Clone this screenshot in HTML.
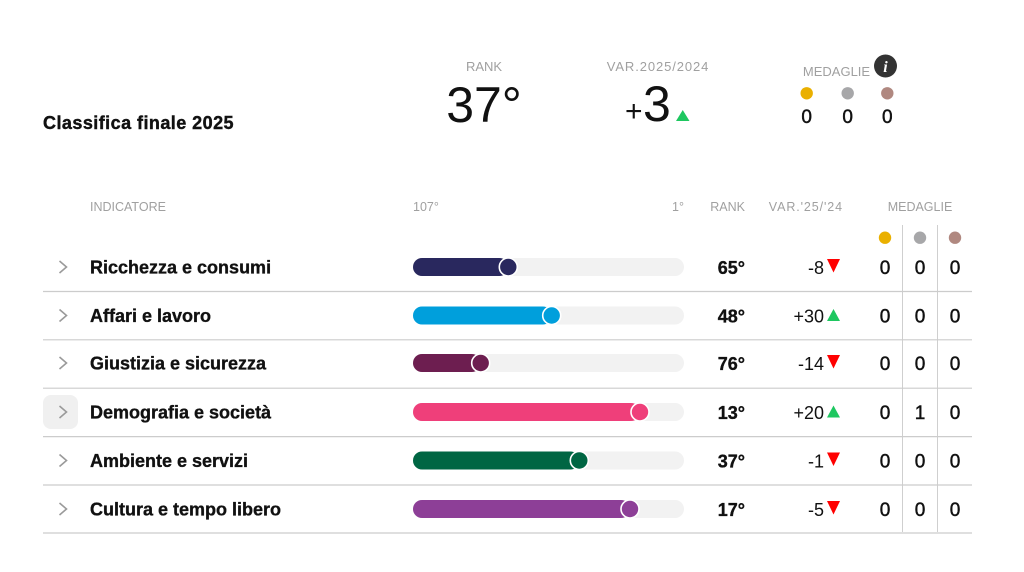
<!DOCTYPE html>
<html><head><meta charset="utf-8"><style>
html,body{margin:0;padding:0;background:#fff;}
svg{display:block;}
text{font-family:"Liberation Sans",Arial,sans-serif;}
.lbl{fill:#a0a0a0;font-size:12.5px;}
.name{font-weight:bold;font-size:18px;fill:#111;stroke:#111;stroke-width:0.35px;}
.rank{font-weight:bold;font-size:18px;fill:#111;stroke:#111;stroke-width:0.35px;}
.var{font-size:18px;fill:#111;}
.med{font-size:19px;fill:#111;text-anchor:middle;stroke:#111;stroke-width:0.45px;}
</style></head><body>
<svg width="1024" height="572" viewBox="0 0 1024 572" xmlns="http://www.w3.org/2000/svg">
<rect width="1024" height="572" fill="#fff"/>
<!-- Title -->
<text x="43" y="129" style="font-weight:bold;font-size:18px;letter-spacing:0.45px;stroke:#111;stroke-width:0.4px" fill="#111">Classifica finale 2025</text>
<!-- RANK -->
<text x="484" y="71" class="lbl" style="font-size:13px" text-anchor="middle">RANK</text>
<text x="484" y="122" style="font-size:50px" fill="#111" text-anchor="middle">37°</text>
<!-- VAR -->
<text x="658" y="71" class="lbl" style="font-size:13px;letter-spacing:0.9px" text-anchor="middle">VAR.2025/2024</text>
<text x="625" y="121" style="font-size:30px" fill="#111">+</text>
<text x="643" y="121" style="font-size:50px" fill="#111">3</text>
<polygon points="676,121 689.5,121 682.75,110" fill="#1ec760"/>
<!-- MEDAGLIE -->
<text x="836.5" y="76" class="lbl" style="font-size:13px" text-anchor="middle">MEDAGLIE</text>
<circle cx="885.5" cy="66" r="11.5" fill="#333"/>
<text x="885.5" y="72" style="font-family:'Liberation Serif',serif;font-weight:bold;font-style:italic;font-size:16px" fill="#fff" text-anchor="middle">i</text>
<circle cx="806.7" cy="93.3" r="6.2" fill="#eab000"/>
<circle cx="847.7" cy="93.3" r="6.2" fill="#a7a7a9"/>
<circle cx="887.3" cy="93.3" r="6.2" fill="#b08880"/>
<text x="806.7" y="123" class="med">0</text>
<text x="847.7" y="123" class="med">0</text>
<text x="887.3" y="123" class="med">0</text>

<!-- Table header -->
<text x="90" y="211" class="lbl">INDICATORE</text>
<text x="413" y="211" class="lbl">107°</text>
<text x="684" y="211" class="lbl" text-anchor="end">1°</text>
<text x="745" y="211" class="lbl" text-anchor="end">RANK</text>
<text x="843" y="211" class="lbl" text-anchor="end" style="letter-spacing:0.9px">VAR.'25/'24</text>
<text x="920" y="211" class="lbl" text-anchor="middle">MEDAGLIE</text>
<circle cx="885" cy="237.7" r="6.2" fill="#eab000"/>
<circle cx="920" cy="237.7" r="6.2" fill="#a7a7a9"/>
<circle cx="955" cy="237.7" r="6.2" fill="#b08880"/>
<line x1="902.5" y1="225" x2="902.5" y2="532" stroke="#cfcfcf" stroke-width="1"/>
<line x1="937.5" y1="225" x2="937.5" y2="532" stroke="#cfcfcf" stroke-width="1"/>

<!-- Row separators -->
<g stroke="#cccccc" stroke-width="1.2">
<line x1="43" y1="291.5" x2="972" y2="291.5"/>
<line x1="43" y1="339.8" x2="972" y2="339.8"/>
<line x1="43" y1="388.2" x2="972" y2="388.2"/>
<line x1="43" y1="436.6" x2="972" y2="436.6"/>
<line x1="43" y1="485" x2="972" y2="485"/>
<line x1="43" y1="533" x2="972" y2="533"/>
</g>

<!-- highlight row 4 chevron bg -->
<rect x="43" y="395" width="35" height="34" rx="8" fill="#f0f0f0"/>

<!-- Rows -->
<g id="rows">
<!-- Row 1 c=267 -->
<polyline points="59.5,261 66.5,267 59.5,273" fill="none" stroke="#9a9a9a" stroke-width="1.6"/>
<text x="90" y="273.5" class="name">Ricchezza e consumi</text>
<rect x="413" y="258" width="271" height="18" rx="9" fill="#f2f2f2"/>
<rect x="413" y="258" width="95.3" height="18" rx="9" fill="#29285e"/>
<circle cx="508.3" cy="267" r="9" fill="#29285e" stroke="#fff" stroke-width="1.6"/>
<text x="745" y="274" class="rank" text-anchor="end">65°</text>
<text x="824" y="274" class="var" text-anchor="end">-8</text>
<polygon points="827,259 840,259 833.5,272.5" fill="#f00"/>
<text x="885" y="274" class="med">0</text><text x="920" y="274" class="med">0</text><text x="955" y="274" class="med">0</text>

<!-- Row 2 c=315.5 -->
<polyline points="59.5,309.5 66.5,315.5 59.5,321.5" fill="none" stroke="#9a9a9a" stroke-width="1.6"/>
<text x="90" y="322" class="name">Affari e lavoro</text>
<rect x="413" y="306.5" width="271" height="18" rx="9" fill="#f2f2f2"/>
<rect x="413" y="306.5" width="138.7" height="18" rx="9" fill="#009fdc"/>
<circle cx="551.7" cy="315.5" r="9" fill="#009fdc" stroke="#fff" stroke-width="1.6"/>
<text x="745" y="322.5" class="rank" text-anchor="end">48°</text>
<text x="824" y="322.5" class="var" text-anchor="end">+30</text>
<polygon points="827,321 840,321 833.5,309" fill="#1ec760"/>
<text x="885" y="322.5" class="med">0</text><text x="920" y="322.5" class="med">0</text><text x="955" y="322.5" class="med">0</text>

<!-- Row 3 c=363 -->
<polyline points="59.5,357 66.5,363 59.5,369" fill="none" stroke="#9a9a9a" stroke-width="1.6"/>
<text x="90" y="369.5" class="name">Giustizia e sicurezza</text>
<rect x="413" y="354" width="271" height="18" rx="9" fill="#f2f2f2"/>
<rect x="413" y="354" width="67.7" height="18" rx="9" fill="#6d1e50"/>
<circle cx="480.7" cy="363" r="9" fill="#6d1e50" stroke="#fff" stroke-width="1.6"/>
<text x="745" y="370" class="rank" text-anchor="end">76°</text>
<text x="824" y="370" class="var" text-anchor="end">-14</text>
<polygon points="827,355 840,355 833.5,368.5" fill="#f00"/>
<text x="885" y="370" class="med">0</text><text x="920" y="370" class="med">0</text><text x="955" y="370" class="med">0</text>

<!-- Row 4 c=412 -->
<polyline points="59.5,406 66.5,412 59.5,418" fill="none" stroke="#9a9a9a" stroke-width="1.6"/>
<text x="90" y="418.5" class="name">Demografia e società</text>
<rect x="413" y="403" width="271" height="18" rx="9" fill="#f2f2f2"/>
<rect x="413" y="403" width="227" height="18" rx="9" fill="#ef3f7a"/>
<circle cx="640" cy="412" r="9" fill="#ef3f7a" stroke="#fff" stroke-width="1.6"/>
<text x="745" y="419" class="rank" text-anchor="end">13°</text>
<text x="824" y="419" class="var" text-anchor="end">+20</text>
<polygon points="827,417.5 840,417.5 833.5,405.5" fill="#1ec760"/>
<text x="885" y="419" class="med">0</text><text x="920" y="419" class="med">1</text><text x="955" y="419" class="med">0</text>

<!-- Row 5 c=460.5 -->
<polyline points="59.5,454.5 66.5,460.5 59.5,466.5" fill="none" stroke="#9a9a9a" stroke-width="1.6"/>
<text x="90" y="467" class="name">Ambiente e servizi</text>
<rect x="413" y="451.5" width="271" height="18" rx="9" fill="#f2f2f2"/>
<rect x="413" y="451.5" width="166.3" height="18" rx="9" fill="#006643"/>
<circle cx="579.3" cy="460.5" r="9" fill="#006643" stroke="#fff" stroke-width="1.6"/>
<text x="745" y="467.5" class="rank" text-anchor="end">37°</text>
<text x="824" y="467.5" class="var" text-anchor="end">-1</text>
<polygon points="827,452.5 840,452.5 833.5,466" fill="#f00"/>
<text x="885" y="467.5" class="med">0</text><text x="920" y="467.5" class="med">0</text><text x="955" y="467.5" class="med">0</text>

<!-- Row 6 c=509 -->
<polyline points="59.5,503 66.5,509 59.5,515" fill="none" stroke="#9a9a9a" stroke-width="1.6"/>
<text x="90" y="515.5" class="name">Cultura e tempo libero</text>
<rect x="413" y="500" width="271" height="18" rx="9" fill="#f2f2f2"/>
<rect x="413" y="500" width="217" height="18" rx="9" fill="#8d3f97"/>
<circle cx="630" cy="509" r="9" fill="#8d3f97" stroke="#fff" stroke-width="1.6"/>
<text x="745" y="516" class="rank" text-anchor="end">17°</text>
<text x="824" y="516" class="var" text-anchor="end">-5</text>
<polygon points="827,501 840,501 833.5,514.5" fill="#f00"/>
<text x="885" y="516" class="med">0</text><text x="920" y="516" class="med">0</text><text x="955" y="516" class="med">0</text>
</g>
</svg>
</body></html>
